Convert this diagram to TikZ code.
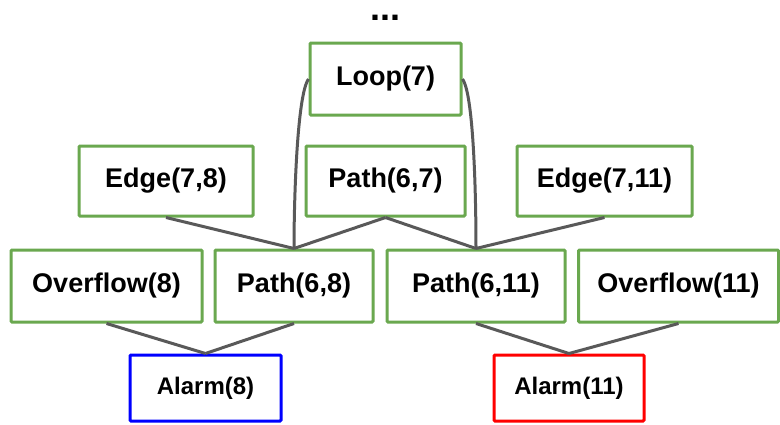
\documentclass[tikz,border=0pt]{standalone}
\usepackage{fontspec}
\setmainfont{Liberation Sans}
\definecolor{boxgreen}{HTML}{6AA84F}
\definecolor{linegray}{HTML}{595959}
\begin{document}
\begin{tikzpicture}[x=1pt,y=-1pt,
  fact/.style={draw=boxgreen,line width=3pt,inner sep=0pt,rounded corners=1pt,
    font=\fontsize{27}{31}\selectfont\bfseries,fill=white},
  alarm/.style={fact,font=\fontsize{24}{28}\selectfont\bfseries},
  conn/.style={draw=linegray,line width=3pt}]
\useasboundingbox (0,0) rectangle (780,424);
\node[font=\fontsize{36}{40}\selectfont\bfseries,anchor=base,inner sep=0pt,text height=6pt,text depth=0pt] (dots) at (385,20) {...};
\node[fact,minimum width=151pt,minimum height=72pt] (loop) at (385.5,79) {Loop(7)};
\node[fact,minimum width=174pt,minimum height=70pt] (e78) at (166,181) {Edge(7,8)};
\node[fact,minimum width=159pt,minimum height=70pt] (p67) at (385.5,181) {Path(6,7)};
\node[fact,minimum width=175pt,minimum height=70pt] (e711) at (604.5,181) {Edge(7,11)};
\node[fact,minimum width=191pt,minimum height=72pt] (o8) at (106.5,286) {Overflow(8)};
\node[fact,minimum width=158pt,minimum height=72pt] (p68) at (294,286) {Path(6,8)};
\node[fact,minimum width=178pt,minimum height=72pt] (p611) at (476,286) {Path(6,11)};
\node[fact,minimum width=200pt,minimum height=72pt] (o11) at (678.5,286) {Overflow(11)};
\node[alarm,draw=blue,minimum width=151pt,minimum height=66pt] (a8) at (205.5,388) {Alarm(8)};
\node[alarm,draw=red,minimum width=150pt,minimum height=66pt] (a11) at (569,388) {Alarm(11)};
\draw[conn] (e78.south) -- (p68.north);
\draw[conn] (p67.south) -- (p68.north);
\draw[conn] (p67.south) -- (p611.north);
\draw[conn] (e711.south) -- (p611.north);
\draw[conn] (loop.west) .. controls (297,95) and (294,200) .. (p68.north);
\draw[conn] (loop.east) .. controls (474,95) and (476,200) .. (p611.north);
\draw[conn] (o8.south) -- (a8.north);
\draw[conn] (p68.south) -- (a8.north);
\draw[conn] (p611.south) -- (a11.north);
\draw[conn] (o11.south) -- (a11.north);
\end{tikzpicture}
\end{document}
